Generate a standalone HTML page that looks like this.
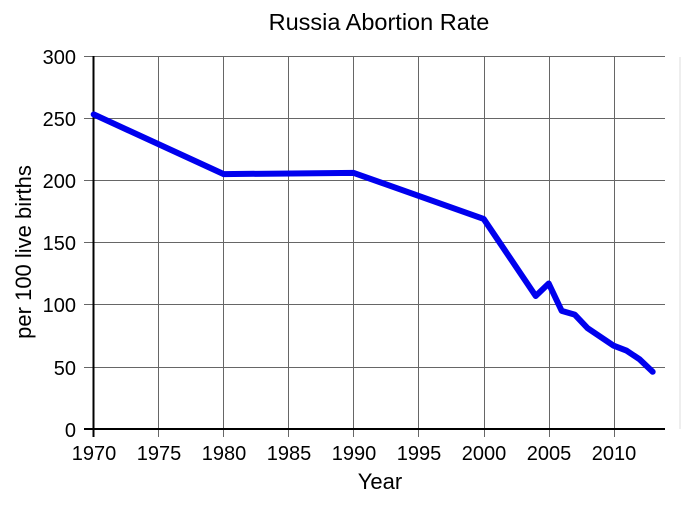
<!DOCTYPE html><html><head><style>body{margin:0;background:#fff}</style></head><body>
<svg width="685" height="512" xmlns="http://www.w3.org/2000/svg" font-family="Liberation Sans, sans-serif">
<rect width="685" height="512" fill="#fff"/>
<g stroke="#666" stroke-width="1">
<line x1="84" y1="56.5" x2="665" y2="56.5"/><line x1="84" y1="118.5" x2="665" y2="118.5"/><line x1="84" y1="180.5" x2="665" y2="180.5"/><line x1="84" y1="242.5" x2="665" y2="242.5"/><line x1="84" y1="304.5" x2="665" y2="304.5"/><line x1="84" y1="367.5" x2="665" y2="367.5"/>
<line x1="158.5" y1="56" x2="158.5" y2="437"/><line x1="223.5" y1="56" x2="223.5" y2="437"/><line x1="288.5" y1="56" x2="288.5" y2="437"/><line x1="353.5" y1="56" x2="353.5" y2="437"/><line x1="418.5" y1="56" x2="418.5" y2="437"/><line x1="484.5" y1="56" x2="484.5" y2="437"/><line x1="549.5" y1="56" x2="549.5" y2="437"/><line x1="614.5" y1="56" x2="614.5" y2="437"/>
</g>
<line x1="680" y1="57" x2="680" y2="429" stroke="#ddd" stroke-width="1"/>
<line x1="93.5" y1="56" x2="93.5" y2="437" stroke="#000" stroke-width="2"/>
<line x1="84" y1="429" x2="665" y2="429" stroke="#000" stroke-width="2"/>
<polyline fill="none" stroke="#0000ee" stroke-width="6" stroke-linejoin="round" stroke-linecap="round" points="93.7,114.4 223.7,174.1 353.7,172.9 483.7,218.9 535.7,296 548.7,283.5 561.7,310.9 574.7,314.6 587.7,328.3 613.7,345.7 626.7,350.7 639.7,359.4 652.7,371.8"/>
<g font-size="20" fill="#000" text-anchor="end">
<text x="76" y="64">300</text><text x="76" y="126">250</text><text x="76" y="188">200</text><text x="76" y="250">150</text><text x="76" y="312">100</text><text x="76" y="375">50</text><text x="76" y="437">0</text>
</g>
<g font-size="20" fill="#000" text-anchor="middle">
<text x="94" y="460">1970</text><text x="159" y="460">1975</text><text x="224" y="460">1980</text><text x="289" y="460">1985</text><text x="354" y="460">1990</text><text x="419" y="460">1995</text><text x="484" y="460">2000</text><text x="549" y="460">2005</text><text x="614" y="460">2010</text>
<text x="380" y="489" font-size="22">Year</text>
<text x="379" y="30" font-size="23.5">Russia Abortion Rate</text>
<text transform="translate(31,252) rotate(-90)" font-size="22">per 100 live births</text>
</g>
</svg></body></html>
